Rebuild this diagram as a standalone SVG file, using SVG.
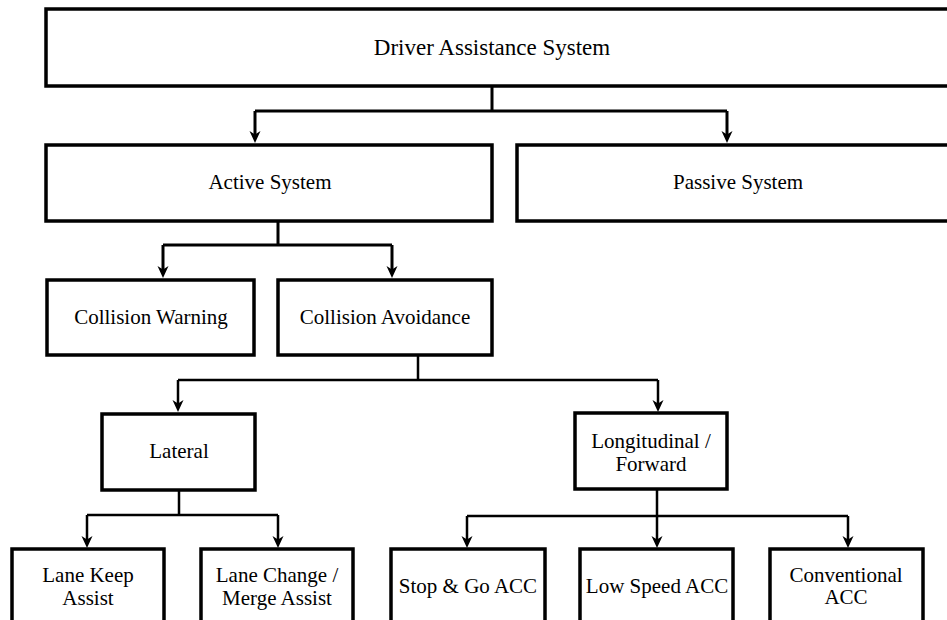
<svg xmlns="http://www.w3.org/2000/svg" width="947" height="620" viewBox="0 0 947 620">
<defs>
<marker id="arr" viewBox="0 0 12 12" markerWidth="12" markerHeight="12" refX="4" refY="6" orient="auto" markerUnits="userSpaceOnUse">
<path d="M0,0.5 L12,6 L0,11.5 L3.5,6 z" fill="#000"/>
</marker>
</defs>
<style>
.box{fill:#fff;stroke:#000;stroke-width:3.5}
text{font-family:'Liberation Serif','DejaVu Serif','Times New Roman',serif;font-size:21px;fill:#000;text-anchor:middle}
.tt{font-size:23px}
.c{fill:none;stroke:#000;stroke-width:2.5}
.c1{stroke-width:3}
</style>
<rect width="947" height="620" fill="#fff"/>
<g id="connectors">
<path class="c c1" d="M492,86 V111 M255,111 H727"/>
<path class="c c1" d="M255,111 V135" marker-end="url(#arr)"/>
<path class="c c1" d="M727,111 V135" marker-end="url(#arr)"/>
<path class="c c1" d="M278,221 V245 M163,245 H392"/>
<path class="c c1" d="M163,245 V270" marker-end="url(#arr)"/>
<path class="c c1" d="M392,245 V270" marker-end="url(#arr)"/>
<path class="c" d="M418,355 V380 M178,380 H658"/>
<path class="c" d="M178,380 V404" marker-end="url(#arr)"/>
<path class="c" d="M658,380 V404" marker-end="url(#arr)"/>
<path class="c" d="M179,490 V515 M87,515 H278"/>
<path class="c" d="M87,515 V540" marker-end="url(#arr)"/>
<path class="c" d="M278,515 V540" marker-end="url(#arr)"/>
<path class="c" d="M657,489 V516 M467,516 H848"/>
<path class="c" d="M467,516 V540" marker-end="url(#arr)"/>
<path class="c" d="M657,516 V540" marker-end="url(#arr)"/>
<path class="c" d="M848,516 V540" marker-end="url(#arr)"/>
</g>
<g id="driver-assistance-system">
<rect class="box" x="46" y="9" width="920" height="77"/>
<text class="tt" x="492" y="55" font-family="Liberation Serif, serif">Driver Assistance System</text>
</g>
<g id="active-system">
<rect class="box" x="46" y="145" width="446" height="76"/>
<text x="270" y="189" font-family="Liberation Serif, serif">Active System</text>
</g>
<g id="passive-system">
<rect class="box" x="517" y="145" width="450" height="76"/>
<text x="738" y="189" font-family="Liberation Serif, serif">Passive System</text>
</g>
<g id="collision-warning">
<rect class="box" x="47" y="280" width="207" height="75"/>
<text x="151" y="324" font-family="Liberation Serif, serif">Collision Warning</text>
</g>
<g id="collision-avoidance">
<rect class="box" x="278" y="280" width="214" height="75"/>
<text x="385" y="324" font-family="Liberation Serif, serif">Collision Avoidance</text>
</g>
<g id="lateral">
<rect class="box" x="102" y="414" width="153" height="76"/>
<text x="179" y="458" font-family="Liberation Serif, serif">Lateral</text>
</g>
<g id="longitudinal-forward">
<rect class="box" x="575" y="413" width="152" height="76"/>
<text x="651" y="448" font-family="Liberation Serif, serif">Longitudinal /</text>
<text x="651" y="471" font-family="Liberation Serif, serif">Forward</text>
</g>
<g id="lane-keep-assist">
<rect class="box" x="12" y="549" width="152" height="100"/>
<text x="88" y="582" font-family="Liberation Serif, serif">Lane Keep</text>
<text x="88" y="605" font-family="Liberation Serif, serif">Assist</text>
</g>
<g id="lane-change-merge-assist">
<rect class="box" x="201" y="549" width="152" height="100"/>
<text x="277" y="582" font-family="Liberation Serif, serif">Lane Change /</text>
<text x="277" y="605" font-family="Liberation Serif, serif">Merge Assist</text>
</g>
<g id="stop-go-acc">
<rect class="box" x="391" y="549" width="154" height="100"/>
<text x="468" y="593" font-family="Liberation Serif, serif">Stop &amp; Go ACC</text>
</g>
<g id="low-speed-acc">
<rect class="box" x="580" y="549" width="153" height="100"/>
<text x="657" y="593" font-family="Liberation Serif, serif">Low Speed ACC</text>
</g>
<g id="conventional-acc">
<rect class="box" x="770" y="549" width="153" height="100"/>
<text x="846" y="582" font-family="Liberation Serif, serif">Conventional</text>
<text x="846" y="604" font-family="Liberation Serif, serif">ACC</text>
</g>
</svg>
